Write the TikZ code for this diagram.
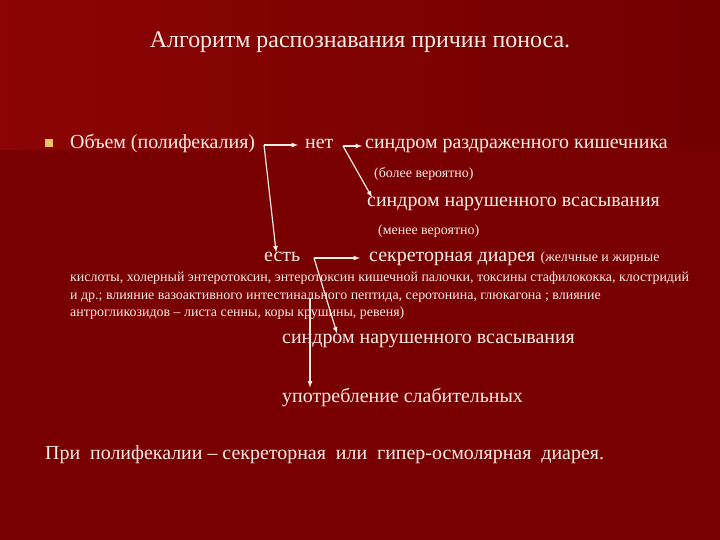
\documentclass[tikz,border=0pt]{standalone}
\usepackage{fontspec}
\setmainfont{Liberation Serif}
\usetikzlibrary{positioning}

\definecolor{bgdark}{RGB}{120,0,0}
\definecolor{bgtop}{RGB}{140,4,4}
\definecolor{bgtopr}{RGB}{114,0,0}
\definecolor{txt}{RGB}{252,236,230}
\definecolor{bullet}{RGB}{240,196,100}

\begin{document}
\begin{tikzpicture}[x=1bp,y=-1bp,
        every node/.style={inner sep=0pt,text=txt,anchor=base west},
        big/.style={font=\fontsize{20}{24}\selectfont},
        small/.style={font=\fontsize{14}{16}\selectfont},
        conn/.style={draw=txt,line width=1.2pt,-latex}]
        \useasboundingbox (0,0) rectangle (720,540);
        % background
        \fill [bgdark] (0,0) rectangle (720,540);
        \shade [left color=bgtop,right color=bgtopr] (0,0) rectangle (720,150);
        % texts
        \node [font=\fontsize{24}{28}\selectfont,anchor=base] (title) at (360,48) {Алгоритм распознавания причин поноса.};
        \node [fill=bullet,minimum size=8bp,anchor=center] (blt) at (49,143) {};
        \node [big] (vol) at (70,149) {Объем (полифекалия)};
        \node [big] (net) at (305,149) {нет};
        \node [big] (ibs) at (365,149) {синдром раздраженного кишечника};
        \node [small] (more) at (374,178) {(более вероятно)};
        \node [big] (mal1) at (367,207) {синдром нарушенного всасывания};
        \node [small] (less) at (378,235) {(менее вероятно)};
        \node [big] (est) at (264,262) {есть};
        \node [big] (secr) at (369,262) {секреторная диарея};
        \node [small] (bile) at ([xshift=5bp]secr.base east) {(желчные и жирные};
        \node [small] (l1) at (70,282) {кислоты, холерный энтеротоксин, энтеротоксин кишечной палочки, токсины стафилококка, клостридий};
        \node [small] (l2) at (70,299) {и др.; влияние вазоактивного интестинального пептида, серотонина, глюкагона ; влияние};
        \node [small] (l3) at (70,316) {антрогликозидов – листа сенны, коры крушины, ревеня)};
        \node [big] (mal2) at (282,343) {синдром нарушенного всасывания};
        \node [big] (lax) at (282,402) {употребление слабительных};
        \node [big] (poly) at (45,459) {При\ \ полифекалии – секреторная\ \ или\ \ гипер-осмолярная\ \ диарея.};
        % arrows
        \coordinate (c1) at (264,145);
        \draw [conn,shorten >=7bp] (c1) -- (c1 -| net.west);
        \draw [conn] (c1) -- ([xshift=-6bp]est.north);
        \coordinate (c2) at (343,146);
        \draw [conn,shorten >=3bp] (c2) -- (c2 -| ibs.west);
        \draw [conn] (c2) -- ([xshift=5bp]mal1.north west);
        \coordinate (c3) at (314,258);
        \draw [conn,shorten >=9bp] (c3) -- (c3 -| secr.west);
        \draw [conn] (c3) -- ([xshift=55bp]mal2.north west);
        \coordinate (c4) at (310,298);
        \draw [conn] (c4) -- (c4 |- lax.north);
\end{tikzpicture}
\end{document}
